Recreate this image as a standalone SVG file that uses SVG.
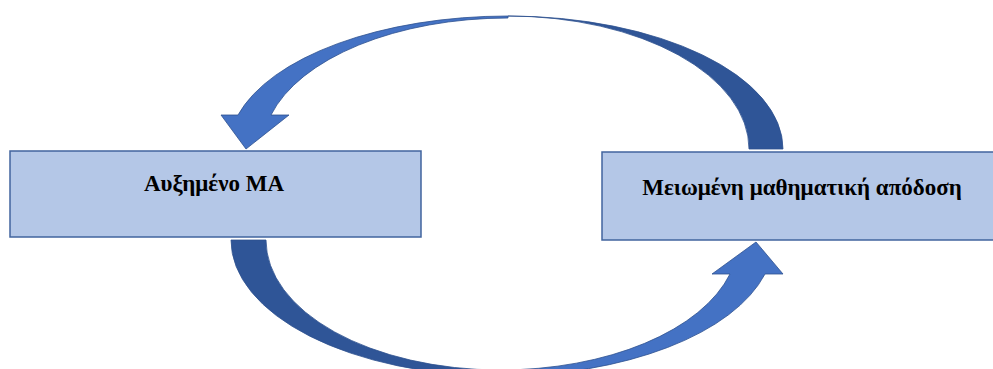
<svg xmlns="http://www.w3.org/2000/svg" width="993" height="369" viewBox="0 0 993 369">
<style>
.box{fill:#b4c7e7;stroke:#41649e;stroke-width:1.5}
.lbl{font-family:"Liberation Serif","Times New Roman",serif;font-weight:bold;font-size:23px;fill:#000;text-anchor:middle}
.back{fill:#2f5597;stroke:#2f528f;stroke-width:0.8}
.front{fill:#4472c4;stroke:#2f528f;stroke-width:0.8}
</style>
<rect width="993" height="369" fill="#fff"/>
<g id="connectors">
<g id="arrow-top">
<path class="back" d="M 783,149 A 275,133 0 0 0 508,16 A 241,133 0 0 1 749,149 Z"/>
<path class="front" d="M 508,16 A 279.5,133 0 0 0 238,115 L 221,115 L 246,149 L 289,115 L 271,115 A 245.6,131 0 0 1 508,18 Z"/>
</g>
<g id="arrow-bottom">
<path class="back" d="M 231,240 A 269,136 0 0 0 500,376 L 500,370 A 234,130 0 0 1 266,240 Z"/>
<path class="front" d="M 500,376 A 274,136 0 0 0 765,274 L 783,274 L 756,242 L 712,274 L 730,274 A 238,130 0 0 1 500,370 Z"/>
</g>
</g>
<g id="node-left">
<rect class="box" x="10" y="151" width="411" height="86"/>
<text class="lbl" x="214" y="191">Αυξημένο ΜΑ</text>
</g>
<g id="node-right">
<rect class="box" x="602" y="152" width="400" height="88"/>
<text class="lbl" x="802" y="195">Μειωμένη μαθηματική απόδοση</text>
</g>
</svg>
